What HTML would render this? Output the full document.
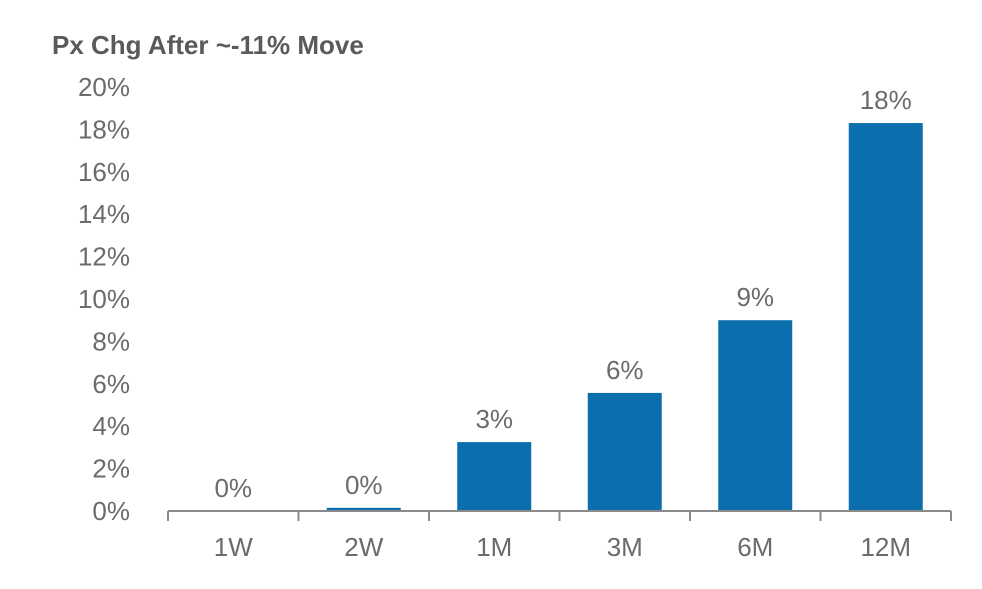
<!DOCTYPE html>
<html><head><meta charset="utf-8"><style>
body{margin:0;background:#fff;}
svg text{font-family:"Liberation Sans",sans-serif;}
</style></head><body>
<svg width="982" height="584">
<text x="52" y="54" font-size="26" font-weight="bold" fill="#5a5a5a">Px Chg After ~-11% Move</text>
<g id="yaxis"></g>
<g id="bars"></g>
<g id="xaxis"></g>
</svg>
<script>
const categories=["1W","2W","1M","3M","6M","12M"];
const values=[0,0.15,3.25,5.57,9.0,18.3];
const valueLabels=["0%","0%","3%","6%","9%","18%"];
const yTicks=[0,2,4,6,8,10,12,14,16,18,20];
const NS="http://www.w3.org/2000/svg";
const x0=168,x1=951,y0=511,yTop=87,yMax=20;
const bw=(x1-x0)/categories.length;
function y(v){return y0-(v/yMax)*(y0-yTop);}
function xc(i){return x0+bw*(i+0.5);}
function mk(t,a,p){const e=document.createElementNS(NS,t);for(const k in a)e.setAttribute(k,a[k]);p.appendChild(e);return e;}
const ya=document.getElementById('yaxis'),ba=document.getElementById('bars'),xa=document.getElementById('xaxis');
yTicks.forEach(t=>{
 const e=mk('text',{x:130,y:y(t)+9,'text-anchor':'end','font-size':26,fill:'#6b6b6b'},ya);
 e.textContent=t+'%';
 
 
});
categories.forEach((c,i)=>{
 const w=74;
 const r=mk('rect',{x:xc(i)-w/2,y:y(values[i]),width:w,height:Math.max(0,y0-y(values[i])),fill:'#0b6fae'},ba);
 
 
 const l=mk('text',{x:xc(i),y:y(values[i])-14,'text-anchor':'middle','font-size':26,fill:'#6b6b6b'},ba);
 l.textContent=valueLabels[i];
 
 
 const xl=mk('text',{x:xc(i),y:556,'text-anchor':'middle','font-size':26,fill:'#6b6b6b'},xa);
 xl.textContent=c;
 
 
});
const ax=mk('line',{x1:x0,x2:x1,y1:y0,y2:y0,stroke:'#8a8a8a','stroke-width':2},xa);


for(let i=0;i<=categories.length;i++){
 const t=mk('line',{x1:x0+bw*i,x2:x0+bw*i,y1:y0,y2:y0+10,stroke:'#8a8a8a','stroke-width':2},xa);
 
 
}
</script>
</body></html>
